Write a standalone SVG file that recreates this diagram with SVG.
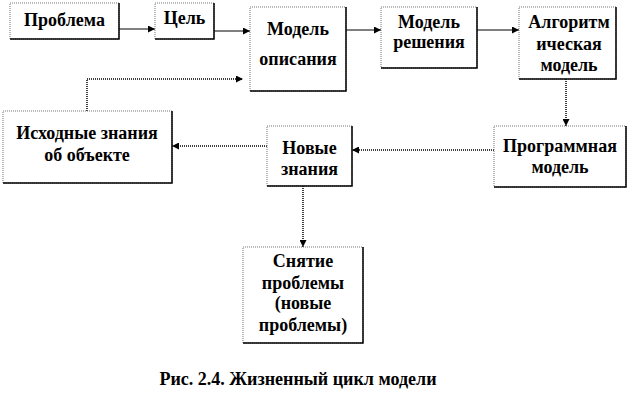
<svg xmlns="http://www.w3.org/2000/svg" width="630" height="402" viewBox="0 0 630 402">
<style>
.bx{fill:#fff;stroke:#777;stroke-width:1;stroke-dasharray:1 1}
.sh{fill:none;stroke:#000;stroke-width:1.5}
.solid{fill:none;stroke:#000;stroke-width:1}
.dot{fill:none;stroke:#000;stroke-width:1.5;stroke-dasharray:1 1}
</style>
<defs>
<marker id="ar" viewBox="0 0 10 10" refX="10" refY="5" markerWidth="7" markerHeight="7" orient="auto" markerUnits="userSpaceOnUse">
<path d="M0,0 L10,5 L0,10 z" fill="#000"/>
</marker>
</defs>
<rect width="630" height="402" fill="#fff"/>
<g id="connectors">
<path class="solid" d="M119,29 H155" marker-end="url(#ar)"/>
<path class="solid" d="M214,31 H250" marker-end="url(#ar)"/>
<path class="solid" d="M346,30 H381" marker-end="url(#ar)"/>
<path class="solid" d="M477,30 H519" marker-end="url(#ar)"/>
<path class="dot" d="M566,79 V126" marker-end="url(#ar)"/>
<path class="dot" d="M494,150 H352" marker-end="url(#ar)"/>
<path class="dot" d="M267,146 H172" marker-end="url(#ar)"/>
<path class="dot" d="M87,111 V79 H243" marker-end="url(#ar)"/>
<path class="dot" d="M303,186 V247" marker-end="url(#ar)"/>
</g>
<g font-family="Liberation Serif, serif" font-weight="bold" font-size="18" text-anchor="middle" fill="#000">
<g id="n-problema">
<rect class="bx" x="10" y="3" width="109" height="36"/>
<path class="sh" d="M119,3 V39 H10"/>
<text x="64.5" y="26">Проблема</text>
</g>
<g id="n-cel">
<rect class="bx" x="155" y="3" width="59" height="36"/>
<path class="sh" d="M214,3 V39 H155"/>
<text x="184.5" y="24">Цель</text>
</g>
<g id="n-model-opisaniya">
<rect class="bx" x="250" y="7" width="96" height="84"/>
<path class="sh" d="M346,7 V91 H250"/>
<text x="298" y="35">Модель</text>
<text x="298" y="65">описания</text>
</g>
<g id="n-model-resheniya">
<rect class="bx" x="381" y="7" width="96" height="61"/>
<path class="sh" d="M477,7 V68 H381"/>
<text x="429" y="28">Модель</text>
<text x="429" y="48">решения</text>
</g>
<g id="n-algoritm">
<rect class="bx" x="519" y="7" width="97" height="72"/>
<path class="sh" d="M616,7 V79 H519"/>
<text x="569" y="28">Алгоритм</text>
<text x="569" y="50">ическая</text>
<text x="569" y="71">модель</text>
</g>
<g id="n-programmnaya">
<rect class="bx" x="494" y="126" width="132" height="61"/>
<path class="sh" d="M626,126 V187 H494"/>
<text x="560" y="152">Программная</text>
<text x="560" y="173">модель</text>
</g>
<g id="n-novye-znaniya">
<rect class="bx" x="267" y="126" width="85" height="60"/>
<path class="sh" d="M352,126 V186 H267"/>
<text x="309.5" y="154">Новые</text>
<text x="309.5" y="175">знания</text>
</g>
<g id="n-ishodnye">
<rect class="bx" x="3" y="111" width="169" height="72"/>
<path class="sh" d="M172,111 V183 H3"/>
<text x="87" y="139">Исходные знания</text>
<text x="87" y="161">об объекте</text>
</g>
<g id="n-snyatie">
<rect class="bx" x="243" y="247" width="120" height="96"/>
<path class="sh" d="M363,247 V343 H243"/>
<text x="303" y="267">Снятие</text>
<text x="303" y="289">проблемы</text>
<text x="303" y="309">(новые</text>
<text x="303" y="331">проблемы)</text>
</g>
<text x="298" y="385">Рис. 2.4. Жизненный цикл модели</text>
</g>
</svg>
